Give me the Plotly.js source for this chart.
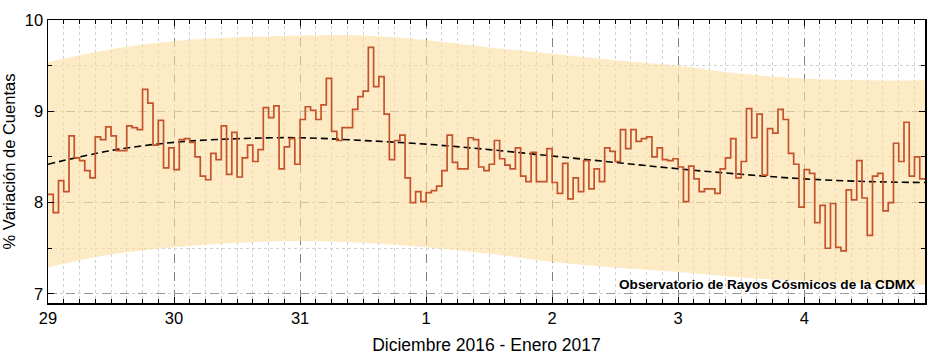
<!DOCTYPE html>
<html>
<head>
<meta charset="utf-8">
<script src="https://cdn.plot.ly/plotly-3.0.1.min.js"></script>
<style>
  html, body { margin: 0; padding: 0; background: #ffffff; }
  #chart { width: 937px; height: 357px; }
</style>
</head>
<body>
<div id="chart"></div>
<script>
// Hourly % variation of counts, one array per day (hours 00..23)
const dec29 = [8.09, 7.89, 8.24, 8.12, 8.73, 8.49, 8.46, 8.35, 8.27, 8.72, 8.69, 8.83,
               8.73, 8.57, 8.57, 8.84, 8.82, 8.80, 9.24, 9.09, 8.63, 8.90, 8.38, 8.60];
const dec30 = [8.36, 8.69, 8.70, 8.66, 8.50, 8.29, 8.25, 8.54, 8.47, 8.84, 8.31, 8.77,
               8.28, 8.49, 8.63, 8.45, 8.58, 9.04, 8.93, 9.06, 8.37, 8.61, 8.70, 8.42];
const dec31 = [8.91, 9.05, 9.01, 8.91, 9.07, 9.36, 8.78, 8.68, 8.82, 8.82, 9.02, 9.16,
               9.22, 9.70, 9.27, 9.38, 8.97, 8.47, 8.68, 8.74, 8.27, 8.00, 8.12, 8.01];
const jan01 = [8.11, 8.13, 8.18, 8.35, 8.74, 8.44, 8.37, 8.37, 8.71, 8.69, 8.39, 8.35,
               8.42, 8.68, 8.48, 8.41, 8.37, 8.60, 8.29, 8.23, 8.55, 8.23, 8.23, 8.59];
const jan02 = [8.22, 8.10, 8.43, 8.04, 8.27, 8.12, 8.46, 8.15, 8.37, 8.23, 8.60, 8.56,
               8.45, 8.80, 8.59, 8.80, 8.67, 8.70, 8.72, 8.50, 8.60, 8.47, 8.46, 8.48];
const jan03 = [8.39, 8.01, 8.40, 8.26, 8.12, 8.15, 8.15, 8.10, 8.37, 8.49, 8.70, 8.27,
               8.45, 9.03, 8.71, 8.97, 8.30, 8.81, 8.76, 9.02, 8.91, 8.54, 8.42, 7.95];
const jan04 = [8.36, 8.32, 7.78, 7.97, 7.50, 7.99, 7.51, 7.47, 8.14, 8.03, 8.46, 8.05,
               7.64, 8.29, 8.32, 7.91, 8.00, 8.65, 8.45, 8.88, 8.29, 8.50, 8.26, 8.26];
const days = ['2016-12-29', '2016-12-30', '2016-12-31', '2017-01-01', '2017-01-02', '2017-01-03', '2017-01-04'];
const dayValues = [dec29, dec30, dec31, jan01, jan02, jan03, jan04];

// Smooth trend and confidence band, sampled every 12 hours
const bandDates = ['2016-12-29 00:00', '2016-12-29 12:00', '2016-12-30 00:00', '2016-12-30 12:00',
                   '2016-12-31 00:00', '2016-12-31 12:00', '2017-01-01 00:00', '2017-01-01 12:00',
                   '2017-01-02 00:00', '2017-01-02 12:00', '2017-01-03 00:00', '2017-01-03 12:00',
                   '2017-01-04 00:00', '2017-01-04 12:00', '2017-01-04 23:00'];
const trendValues = [8.42, 8.57, 8.66, 8.70, 8.71, 8.68, 8.64, 8.58, 8.51, 8.44, 8.37, 8.31, 8.26, 8.23, 8.22];
const bandUpper   = [9.54, 9.68, 9.77, 9.81, 9.83, 9.83, 9.78, 9.70, 9.63, 9.56, 9.50, 9.41, 9.36, 9.34, 9.34];
const bandLower   = [7.29, 7.43, 7.51, 7.56, 7.58, 7.56, 7.51, 7.44, 7.35, 7.29, 7.24, 7.18, 7.14, 7.11, 7.10];

// Axis labels
const xTickDates  = ['2016-12-29', '2016-12-30', '2016-12-31', '2017-01-01', '2017-01-02', '2017-01-03', '2017-01-04'];
const xTickLabels = ['29', '30', '31', '1', '2', '3', '4'];
const yTickVals   = [7, 8, 9, 10];
const yTickLabels = ['7', '8', '9', '10'];

// Build hourly timestamps for the series
const hourX = [], hourY = [];
days.forEach((d, i) => {
  dayValues[i].forEach((v, h) => {
    hourX.push(d + ' ' + String(h).padStart(2, '0') + ':00');
    hourY.push(v);
  });
});

const bandFill = 'rgba(252, 222, 163, 0.62)';

const traces = [
  { x: bandDates, y: bandLower, mode: 'lines', line: { width: 0, shape: 'spline', smoothing: 1 },
    hoverinfo: 'skip', showlegend: false },
  { x: bandDates, y: bandUpper, mode: 'lines', line: { width: 0, shape: 'spline', smoothing: 1 },
    fill: 'tonexty', fillcolor: bandFill, hoverinfo: 'skip', showlegend: false },
  { x: bandDates, y: trendValues, mode: 'lines',
    line: { color: '#000000', width: 1.6, dash: '7px,4px', shape: 'spline', smoothing: 1 },
    showlegend: false },
  { x: hourX, y: hourY, mode: 'lines',
    line: { color: '#C4532B', width: 1.7, shape: 'hv' }, showlegend: false }
];

const layout = {
  width: 937, height: 357,
  margin: { l: 48, r: 12, t: 20, b: 54 },
  paper_bgcolor: '#ffffff', plot_bgcolor: '#ffffff',
  font: { family: 'Liberation Sans, Arial, sans-serif', size: 16, color: '#000000' },
  showlegend: false,
  xaxis: {
    type: 'date',
    range: ['2016-12-29 00:00', '2017-01-04 23:00'],
    tickmode: 'array', tickvals: xTickDates, ticktext: xTickLabels,
    ticks: 'inside', ticklen: 6, tickwidth: 1, tickcolor: '#000',
    showgrid: true, gridcolor: '#808080', griddash: 'dash', gridwidth: 1,
    showline: true, linecolor: '#000', linewidth: 1.5, mirror: 'ticks',
    zeroline: false,
    tickfont: { size: 16.5 },
    minor: { dtick: 10800000, tick0: '2016-12-29 00:00', ticks: 'inside', ticklen: 4,
             tickcolor: '#000', showgrid: true, gridcolor: '#cfcfcf', griddash: 'dot', gridwidth: 1 },
    title: { text: 'Diciembre 2016 - Enero 2017', font: { size: 17.5 }, standoff: 12 }
  },
  yaxis: {
    range: [6.9, 10],
    tickmode: 'array', tickvals: yTickVals, ticktext: yTickLabels,
    ticks: 'inside', ticklen: 6, tickwidth: 1, tickcolor: '#000',
    showgrid: true, gridcolor: '#9a9a9a', griddash: 'dash', gridwidth: 1,
    showline: true, linecolor: '#000', linewidth: 1.5, mirror: 'ticks',
    zeroline: false,
    tickfont: { size: 16.5 },
    minor: { dtick: 0.5, tick0: 7, ticks: 'inside', ticklen: 4, tickcolor: '#000',
             showgrid: true, gridcolor: '#d2d2d2', griddash: 'dot', gridwidth: 1 },
    title: { text: '% Variación de Cuentas', font: { size: 16.5 }, standoff: 6 }
  },
  annotations: [{
    xref: 'paper', yref: 'paper', x: 0.991, y: 0.064, xanchor: 'right', yanchor: 'middle',
    text: '<b>Observatorio de Rayos Cósmicos de la CDMX</b>', showarrow: false,
    font: { size: 13.6, color: '#000' }
  }]
};

Plotly.newPlot('chart', traces, layout, { displayModeBar: false, staticPlot: true });
</script>
</body>
</html>
